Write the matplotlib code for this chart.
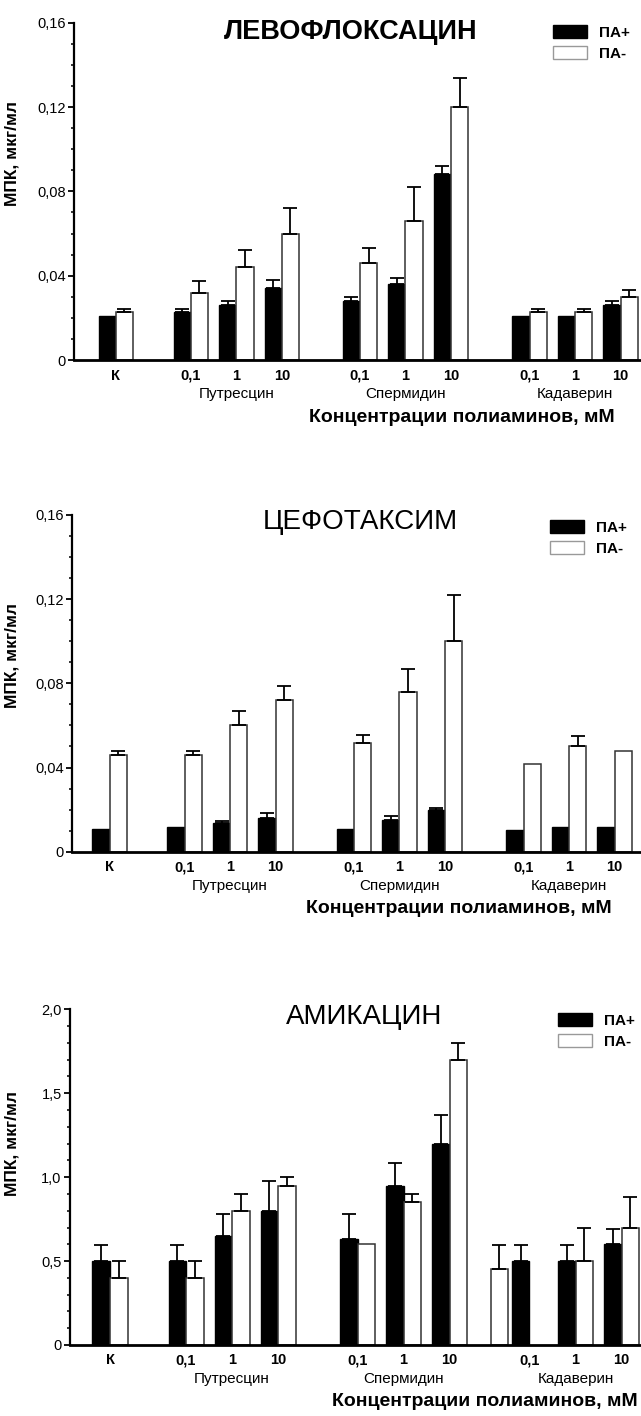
import matplotlib
matplotlib.use("Agg")
import matplotlib.pyplot as plt
from matplotlib.patches import Patch
from matplotlib.ticker import MultipleLocator, FuncFormatter
import numpy as np

plt.rcParams['font.family'] = ['Liberation Sans', 'DejaVu Sans']

# categories
conc_labels = ['К', '0,1', '1', '10', '0,1', '1', '10', '0,1', '1', '10']
groups = ['Путресцин', 'Спермидин', 'Кадаверин']
series_names = ['ПА+', 'ПА-']

# ЛЕВОФЛОКСАЦИН
levo_plus = [0.021, 0.023, 0.026, 0.034, 0.028, 0.036, 0.088, 0.021, 0.021, 0.026]
levo_plus_err = [0, 0.001, 0.002, 0.004, 0.002, 0.003, 0.004, 0, 0, 0.002]
levo_minus = [0.023, 0.032, 0.044, 0.060, 0.046, 0.066, 0.120, 0.023, 0.023, 0.030]
levo_minus_err = [0.001, 0.0055, 0.008, 0.012, 0.007, 0.016, 0.014, 0.001, 0.001, 0.003]

# ЦЕФОТАКСИМ
cef_plus = [0.011, 0.0115, 0.0135, 0.016, 0.011, 0.015, 0.020, 0.0105, 0.0115, 0.0115]
cef_plus_err = [0, 0, 0.0012, 0.0024, 0, 0.002, 0.001, 0, 0, 0]
cef_minus = [0.046, 0.046, 0.060, 0.072, 0.0515, 0.076, 0.100, 0.0415, 0.050, 0.048]
cef_minus_err = [0.0018, 0.0018, 0.007, 0.0067, 0.004, 0.011, 0.022, 0, 0.005, 0]

# АМИКАЦИН
ami_plus = [0.5, 0.5, 0.65, 0.8, 0.63, 0.95, 1.2, 0.5, 0.5, 0.6]
ami_plus_err = [0.095, 0.095, 0.13, 0.18, 0.15, 0.135, 0.17, 0.095, 0.095, 0.09]
ami_minus = [0.4, 0.4, 0.8, 0.95, 0.6, 0.85, 1.7, 0.45, 0.5, 0.7]
ami_minus_err = [0.1, 0.1, 0.1, 0.05, 0, 0.05, 0.1, 0.145, 0.2, 0.18]

# layout
pos = np.array([0, 1.65, 2.65, 3.65, 5.37, 6.37, 7.37, 9.1, 10.1, 11.1])
w = 0.38
W, H = 641, 1416

panels = [
    dict(title='ЛЕВОФЛОКСАЦИН', bold=True, p=levo_plus, pe=levo_plus_err,
         m=levo_minus, me=levo_minus_err, ymax=0.16, major=0.04, minor=0.01,
         fmt=lambda v: '0' if v == 0 else f'{v:.2f}'.replace('.', ','),
         left=74, zero=360, top=22.7, xlim=(-0.92, 11.55),
         txy=(351, 32), lxy=(553, 25), ly=153, xr=615, shift={}),
    dict(title='ЦЕФОТАКСИМ', bold=False, p=cef_plus, pe=cef_plus_err,
         m=cef_minus, me=cef_minus_err, ymax=0.16, major=0.04, minor=0.01,
         fmt=lambda v: '0' if v == 0 else f'{v:.2f}'.replace('.', ','),
         left=72, zero=851.7, top=515, xlim=(-0.826, 11.68),
         txy=(360, 522), lxy=(550, 520), ly=655, xr=612, shift={}),
    dict(title='АМИКАЦИН', bold=False, p=ami_plus, pe=ami_plus_err,
         m=ami_minus, me=ami_minus_err, ymax=2.0, major=0.5, minor=0.1,
         fmt=lambda v: '0' if v == 0 else f'{v:.1f}'.replace('.', ','),
         left=70, zero=1345, top=1009.3, xlim=(-0.868, 11.52),
         txy=(364, 1017), lxy=(558, 1013), ly=1144, xr=638,
         shift={7: -1.5 * w - 0.08}),
]

fig = plt.figure(figsize=(W / 100, H / 100), dpi=100)

for pn in panels:
    hpx = pn['zero'] - pn['top']
    ax = fig.add_axes([pn['left'] / W, 1 - pn['zero'] / H,
                       (W - pn['left']) / W, hpx / H])
    ax.set_xlim(*pn['xlim'])
    ax.set_ylim(0, pn['ymax'])

    xp = pos - w / 2
    xm = pos + w / 2
    for i, s in pn['shift'].items():
        xm[i] = pos[i] + s
    ax.bar(xp, pn['p'], w, color='black', edgecolor='black', linewidth=1, zorder=2)
    ax.bar(xm, pn['m'], w, color='white', edgecolor='#333333', linewidth=1.1, zorder=2)

    for xs, vals, errs in [(xp, pn['p'], pn['pe']), (xm, pn['m'], pn['me'])]:
        vals = np.array(vals)
        errs = np.array(errs)
        k = errs > 0
        ax.errorbar(xs[k], vals[k], yerr=[np.zeros(k.sum()), errs[k]], fmt='none',
                    ecolor='black', elinewidth=1.3, capsize=5, capthick=1.3, zorder=3)

    for side in ['top', 'right']:
        ax.spines[side].set_visible(False)
    ax.spines['left'].set_linewidth(1.6)
    ax.spines['bottom'].set_linewidth(2.0)

    ax.yaxis.set_major_locator(MultipleLocator(pn['major']))
    ax.yaxis.set_minor_locator(MultipleLocator(pn['minor']))
    ax.yaxis.set_major_formatter(FuncFormatter(lambda v, _, f=pn['fmt']: f(v)))
    ax.tick_params(axis='y', which='major', length=4, width=1.3, labelsize=10.5, pad=2)
    ax.tick_params(axis='y', which='minor', length=2.5, width=1.1)

    # concentration labels share one baseline
    ax.set_xticks([])
    tr = ax.get_xaxis_transform()
    for x, lbl in zip(pos, conc_labels):
        ax.text(x, -19.5 / hpx, lbl, transform=tr, ha='center', va='baseline',
                fontsize=10.5, fontweight='bold')

    for gi, g in enumerate(groups):
        ax.text(pos[2 + 3 * gi], -34 / hpx, g, transform=tr,
                ha='center', va='center', fontsize=11)

    ax.set_ylabel('МПК, мкг/мл', fontsize=12.5, fontweight='bold')
    ax.yaxis.set_label_coords((20 - pn['left']) / (W - pn['left']),
                              (pn['zero'] - pn['ly']) / hpx)

    fig.text(pn['txy'][0] / W, 1 - pn['txy'][1] / H, pn['title'],
             ha='center', va='center', fontsize=19.5 if pn['bold'] else 20,
             fontweight='bold' if pn['bold'] else 'normal')

    fig.text(pn['xr'] / W, 1 - (pn['zero'] + 57) / H, 'Концентрации полиаминов, мМ',
             ha='right', va='center', fontsize=14, fontweight='bold')

    handles = [Patch(facecolor='black', edgecolor='black'),
               Patch(facecolor='white', edgecolor='#999999')]
    ax.legend(handles, series_names, loc='upper left',
              bbox_to_anchor=(pn['lxy'][0] / W, 1 - pn['lxy'][1] / H),
              bbox_transform=fig.transFigure, frameon=False, borderpad=0,
              borderaxespad=0, handlelength=2.2, handleheight=0.9,
              handletextpad=0.8, labelspacing=0.45,
              prop={'size': 11, 'weight': 'bold'})

fig.savefig('out.png', dpi=100)
